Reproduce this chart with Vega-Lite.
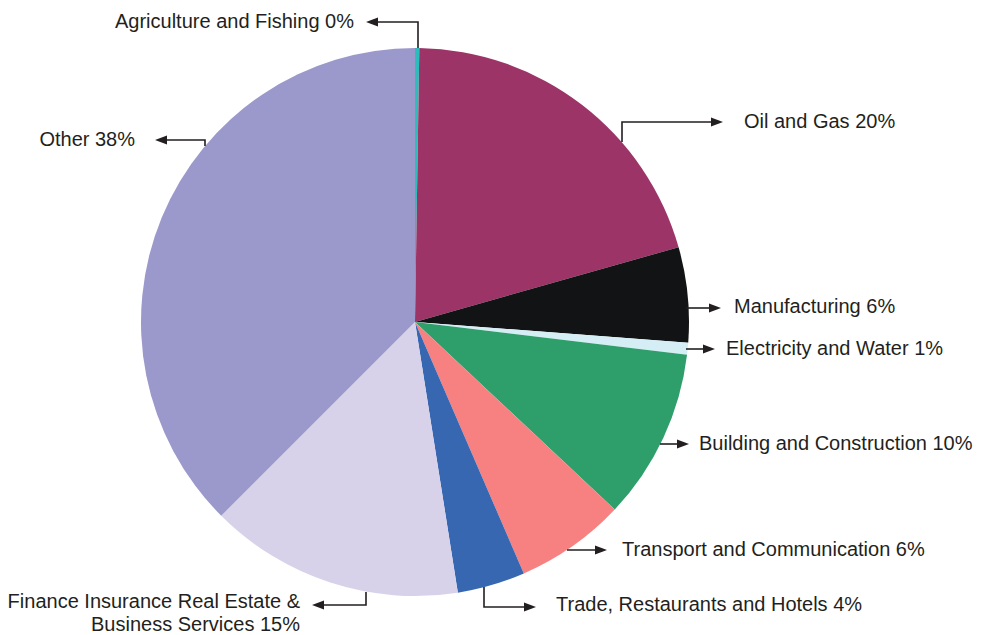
{
  "$schema": "https://vega.github.io/schema/vega-lite/v6.json",
  "width": 987,
  "height": 635,
  "padding": 0,
  "autosize": {"type": "none"},
  "background": "white",
  "config": {"view": {"stroke": null}},
  "datasets": {
    "slices": [
      {"sector": "Agriculture and Fishing", "share": 0.25, "idx": 1},
      {"sector": "Oil and Gas", "share": 20.35, "idx": 2},
      {"sector": "Manufacturing", "share": 5.6, "idx": 3},
      {"sector": "Electricity and Water", "share": 0.7, "idx": 4},
      {"sector": "Building and Construction", "share": 10.1, "idx": 5},
      {"sector": "Transport and Communication", "share": 6.5, "idx": 6},
      {"sector": "Trade, Restaurants and Hotels", "share": 4.0, "idx": 7},
      {"sector": "Finance Insurance Real Estate & Business Services", "share": 15.0, "idx": 8},
      {"sector": "Other", "share": 37.5, "idx": 9}
    ],
    "leaders": [
      {"id": "agri", "seq": 1, "x": 3, "y": 274},
      {"id": "agri", "seq": 2, "x": 3, "y": 300},
      {"id": "agri", "seq": 3, "x": -43, "y": 300},
      {"id": "oil", "seq": 1, "x": 207, "y": 180},
      {"id": "oil", "seq": 2, "x": 207, "y": 200},
      {"id": "oil", "seq": 3, "x": 302, "y": 200},
      {"id": "other", "seq": 1, "x": -210, "y": 176},
      {"id": "other", "seq": 2, "x": -210, "y": 182},
      {"id": "other", "seq": 3, "x": -254, "y": 182},
      {"id": "manu", "seq": 1, "x": 271, "y": 14},
      {"id": "manu", "seq": 2, "x": 300, "y": 14},
      {"id": "elec", "seq": 1, "x": 271, "y": -27},
      {"id": "elec", "seq": 2, "x": 294, "y": -27},
      {"id": "build", "seq": 1, "x": 245, "y": -122},
      {"id": "build", "seq": 2, "x": 268, "y": -122},
      {"id": "trans", "seq": 1, "x": 152, "y": -228},
      {"id": "trans", "seq": 2, "x": 186, "y": -228},
      {"id": "trade", "seq": 1, "x": 69, "y": -265},
      {"id": "trade", "seq": 2, "x": 69, "y": -285},
      {"id": "trade", "seq": 3, "x": 115, "y": -285},
      {"id": "fin", "seq": 1, "x": -49, "y": -270},
      {"id": "fin", "seq": 2, "x": -49, "y": -283},
      {"id": "fin", "seq": 3, "x": -97, "y": -283}
    ],
    "heads": [
      {"id": "agri", "dir": "left", "x": -43, "y": 300},
      {"id": "oil", "dir": "right", "x": 302, "y": 200},
      {"id": "other", "dir": "left", "x": -254, "y": 182},
      {"id": "manu", "dir": "right", "x": 300, "y": 14},
      {"id": "elec", "dir": "right", "x": 294, "y": -27},
      {"id": "build", "dir": "right", "x": 268, "y": -122},
      {"id": "trans", "dir": "right", "x": 186, "y": -228},
      {"id": "trade", "dir": "right", "x": 115, "y": -285},
      {"id": "fin", "dir": "left", "x": -97, "y": -283}
    ],
    "labels": [
      {"label": "Agriculture and Fishing 0%", "side": "right", "x": -61, "y": 300},
      {"label": "Oil and Gas 20%", "side": "left", "x": 329, "y": 200},
      {"label": "Other 38%", "side": "right", "x": -280, "y": 182},
      {"label": "Manufacturing 6%", "side": "left", "x": 319, "y": 15},
      {"label": "Electricity and Water 1%", "side": "left", "x": 311, "y": -27},
      {"label": "Building and Construction 10%", "side": "left", "x": 284, "y": -122},
      {"label": "Transport and Communication 6%", "side": "left", "x": 207, "y": -228},
      {"label": "Trade, Restaurants and Hotels 4%", "side": "left", "x": 141, "y": -283},
      {"label": "Finance Insurance Real Estate &\nBusiness Services 15%", "side": "right", "x": -115, "y": -280}
    ]
  },
  "layer": [
    {
      "data": {"name": "slices"},
      "mark": {"type": "arc", "outerRadius": 274, "stroke": null},
      "encoding": {
        "x": {"datum": 0, "type": "quantitative", "scale": {"domain": [-415, 572], "nice": false, "zero": false}, "axis": null},
        "y": {"datum": 0, "type": "quantitative", "scale": {"domain": [-313, 322], "nice": false, "zero": false}, "axis": null},
        "theta": {"field": "share", "type": "quantitative", "stack": true},
        "order": {"field": "idx", "type": "quantitative"},
        "color": {
          "field": "sector", "type": "nominal", "legend": null,
          "scale": {
            "domain": ["Agriculture and Fishing", "Oil and Gas", "Manufacturing", "Electricity and Water", "Building and Construction", "Transport and Communication", "Trade, Restaurants and Hotels", "Finance Insurance Real Estate & Business Services", "Other"],
            "range": ["#2bbcbc", "#9c3468", "#121314", "#d5eef5", "#2e9e6b", "#f78181", "#3867b2", "#d7d2ea", "#9b98cb"]
          }
        }
      }
    },
    {
      "data": {"name": "leaders"},
      "mark": {"type": "line", "color": "#231f20", "strokeWidth": 1.6, "interpolate": "linear"},
      "encoding": {
        "x": {"field": "x", "type": "quantitative"},
        "y": {"field": "y", "type": "quantitative"},
        "detail": {"field": "id"},
        "order": {"field": "seq", "type": "quantitative"}
      }
    },
    {
      "data": {"name": "heads"},
      "mark": {"type": "point", "filled": true, "color": "#231f20", "opacity": 1, "size": 144, "strokeWidth": 0},
      "encoding": {
        "x": {"field": "x", "type": "quantitative"},
        "y": {"field": "y", "type": "quantitative"},
        "shape": {
          "field": "dir", "type": "nominal", "legend": null,
          "scale": {"domain": ["left", "right"], "range": ["M1,-0.75L-1,0L1,0.75Z", "M-1,-0.75L1,0L-1,0.75Z"]}
        }
      }
    },
    {
      "data": {"name": "labels"},
      "transform": [{"filter": "datum.side === 'left'"}],
      "mark": {"type": "text", "align": "left", "baseline": "middle", "font": "Liberation Sans", "fontSize": 20, "color": "#231f20"},
      "encoding": {
        "x": {"field": "x", "type": "quantitative"},
        "y": {"field": "y", "type": "quantitative"},
        "text": {"field": "label"}
      }
    },
    {
      "data": {"name": "labels"},
      "transform": [{"filter": "datum.side === 'right'"}],
      "mark": {"type": "text", "align": "right", "baseline": "middle", "font": "Liberation Sans", "fontSize": 20, "color": "#231f20", "lineBreak": "\n", "lineHeight": 23},
      "encoding": {
        "x": {"field": "x", "type": "quantitative"},
        "y": {"field": "y", "type": "quantitative"},
        "text": {"field": "label"}
      }
    }
  ]
}
